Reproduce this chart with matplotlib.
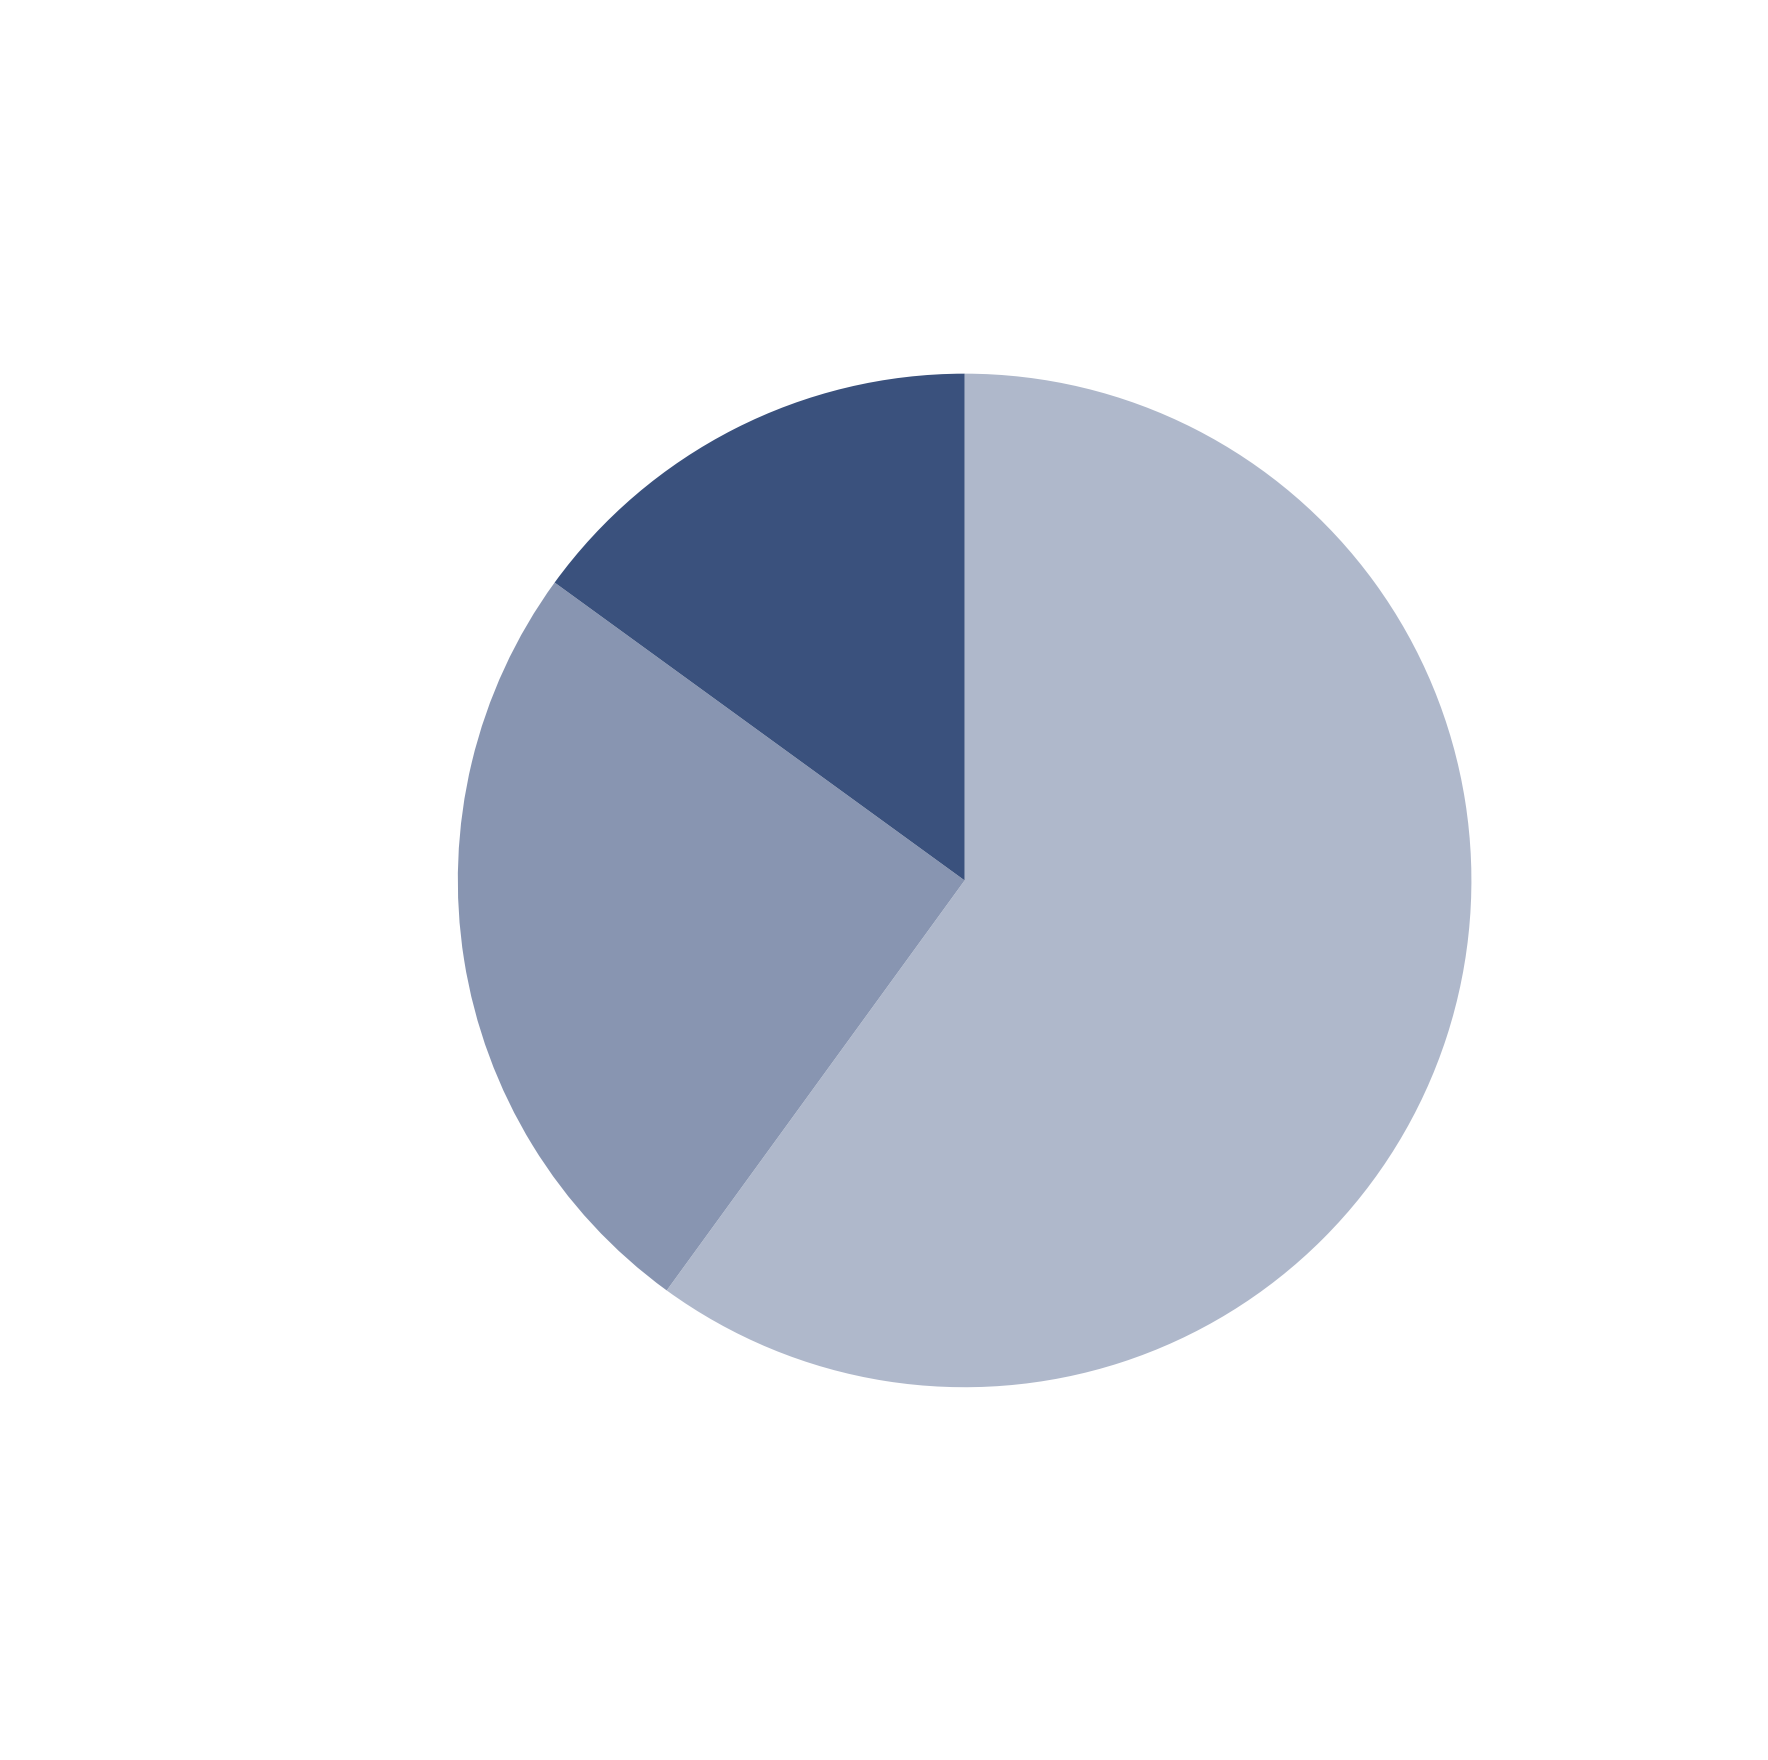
import matplotlib.pyplot as plt

labels = ["60% - LP", "25% - Presale", "15% - App Allocation"]
shares = [60, 25, 15]
colors = ['#AFB8CB', '#8895B1', '#3A517D']

fig = plt.figure(figsize=(17.68, 17.60), dpi=100)
ax = fig.add_axes([0.1873, 0.1398, 0.7166, 0.7199])

wedges, texts = ax.pie(shares, labels=labels, colors=colors, startangle=90,
                       counterclock=False, labeldistance=1.1,
                       textprops={'color': 'white', 'fontsize': 30})
ax.set_xlim(-1.25, 1.25)
ax.set_ylim(-1.25, 1.25)
ax.set_aspect('equal')

fig.savefig('out.png', dpi=100, facecolor='white')
